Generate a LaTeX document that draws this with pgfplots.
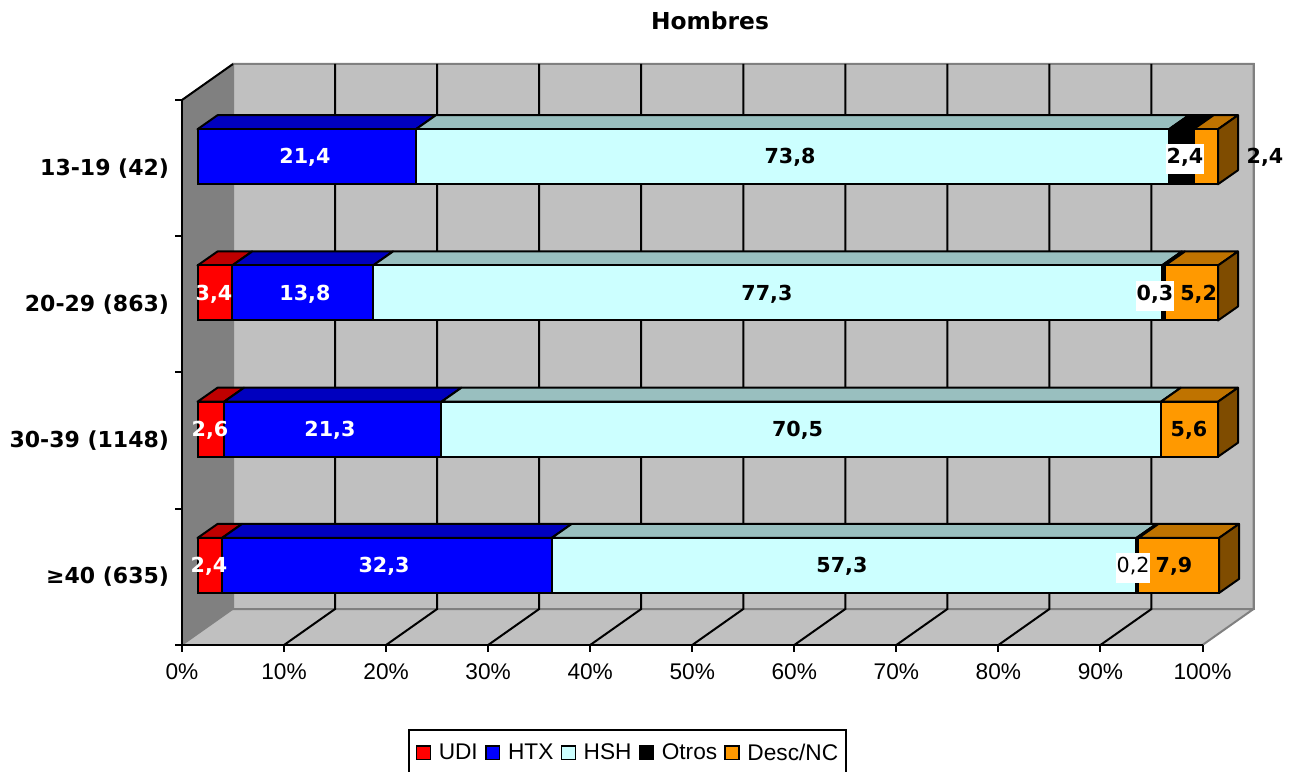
\documentclass[border=0pt]{standalone}
\usepackage{fontspec}
\setmainfont{Liberation Sans}
\newfontfamily\vb{DejaVu Sans}
\usepackage{pgfplots}
\pgfplotsset{compat=1.18}
\definecolor{wall}{HTML}{C0C0C0}
\definecolor{lwall}{HTML}{808080}
\definecolor{cU}{HTML}{FF0000}
\definecolor{cH}{HTML}{0000FF}
\definecolor{cS}{HTML}{CCFFFF}
\definecolor{cD}{HTML}{FF9900}
\definecolor{tU}{HTML}{BF0000}
\definecolor{tH}{HTML}{0000BF}
\definecolor{tS}{HTML}{99BFBF}
\definecolor{tD}{HTML}{BF7300}
\definecolor{sD}{HTML}{7F4C00}
\newcommand\lbl{\fontsize{15.5}{18}\selectfont\vb\bfseries}
\tikzset{val/.style={anchor=base,inner sep=0pt,font=\lbl},
  wbox/.style={anchor=base,fill=white,inner xsep=0.5pt,inner ysep=0pt,text height=14.5pt,text depth=8pt,font=\lbl}}
\begin{document}
\begin{tikzpicture}
\path[use as bounding box] (0,0) rectangle (969pt,578.25pt);
% walls, floor, grid, ticks
\begin{axis}[at={(136.5pt,94.5pt)},anchor=south west,scale only axis,width=765.375pt,height=408.75pt,
  xmin=0,xmax=100,ymin=0,ymax=4,clip=false,axis on top,
  axis x line*=bottom,axis y line*=left,
  axis line style={black,line width=1.5pt},
  tick align=outside,major tick length=5.25pt,minor tick length=5.25pt,
  xtick={0,10,...,100},xticklabels={0\%,10\%,20\%,30\%,40\%,50\%,60\%,70\%,80\%,90\%,100\%},
  x tick style={black,line width=1.5pt},
  ytick={0.5,1.5,2.5,3.5},
  yticklabels={{\char"2265 40 (635)},{30-39 (1148)},{20-29 (863)},{13-19 (42)}},
  y tick style={draw=none},
  minor ytick={0,1,2,3,4},
  minor y tick style={black,line width=1.5pt,draw=black},
  xticklabel style={font=\fontsize{17}{20}\selectfont,yshift=-5pt},
  yticklabel style={font=\fontsize{16.5}{20}\selectfont\vb\bfseries,xshift=-1pt},
  title={\fontsize{17.5}{20}\selectfont\vb\bfseries Hombres},
  title style={at={(0.5174,1.1303)},anchor=center},
]
\addplot[fill=lwall,draw=lwall,line width=1pt,forget plot] coordinates {(0,0)(5,0.2642)(5,4.2642)(0,4)} --cycle;
\addplot[fill=wall,draw=lwall,line width=1.5pt,forget plot] coordinates {(5,0.2642)(105,0.2642)(105,4.2642)(5,4.2642)} --cycle;
\addplot[fill=wall,draw=none,forget plot] coordinates {(0,0)(100,0)(105,0.2642)(5,0.2642)} --cycle;
\addplot[draw=lwall,line width=1.5pt,forget plot] coordinates {(100,0)(105,0.2642)(105,4.2642)(5,4.2642)(5,0.2642)(105,0.2642)};
\addplot[draw=lwall,line width=1pt,forget plot] coordinates {(0,0)(5,0.2642)};
\addplot[black,line width=1.5pt,forget plot] coordinates {(0,4)(5,4.2642)};
\addplot[black,line width=1.5pt,forget plot] coordinates {(10,0)(15,0.2642)(15,4.2642)};
\addplot[black,line width=1.5pt,forget plot] coordinates {(20,0)(25,0.2642)(25,4.2642)};
\addplot[black,line width=1.5pt,forget plot] coordinates {(30,0)(35,0.2642)(35,4.2642)};
\addplot[black,line width=1.5pt,forget plot] coordinates {(40,0)(45,0.2642)(45,4.2642)};
\addplot[black,line width=1.5pt,forget plot] coordinates {(50,0)(55,0.2642)(55,4.2642)};
\addplot[black,line width=1.5pt,forget plot] coordinates {(60,0)(65,0.2642)(65,4.2642)};
\addplot[black,line width=1.5pt,forget plot] coordinates {(70,0)(75,0.2642)(75,4.2642)};
\addplot[black,line width=1.5pt,forget plot] coordinates {(80,0)(85,0.2642)(85,4.2642)};
\addplot[black,line width=1.5pt,forget plot] coordinates {(90,0)(95,0.2642)(95,4.2642)};
\end{axis}
% top and side faces of the bars
\begin{axis}[at={(148.125pt,103.05pt)},anchor=south west,scale only axis,width=765.375pt,height=408.75pt,
  xmin=0,xmax=100,ymin=0,ymax=4,clip=false,hide axis,
  every axis plot/.append style={draw=black,line width=1.5pt,line join=round}]
% 13-19
\addplot[fill=tH] coordinates {(0,3.7018)(21.4,3.7018)(23.36,3.8046)(1.96,3.8046)} --cycle;
\addplot[fill=tS] coordinates {(21.4,3.7018)(95.2,3.7018)(97.16,3.8046)(23.36,3.8046)} --cycle;
\addplot[fill=black] coordinates {(95.2,3.7018)(97.6,3.7018)(99.56,3.8046)(97.16,3.8046)} --cycle;
\addplot[fill=tD] coordinates {(97.6,3.7018)(100,3.7018)(101.96,3.8046)(99.56,3.8046)} --cycle;
\addplot[fill=sD] coordinates {(100,3.2982)(100,3.7018)(101.96,3.8046)(101.96,3.401)} --cycle;
% 20-29
\addplot[fill=tU] coordinates {(0,2.7018)(3.4,2.7018)(5.36,2.8046)(1.96,2.8046)} --cycle;
\addplot[fill=tH] coordinates {(3.4,2.7018)(17.2,2.7018)(19.16,2.8046)(5.36,2.8046)} --cycle;
\addplot[fill=tS] coordinates {(17.2,2.7018)(94.5,2.7018)(96.46,2.8046)(19.16,2.8046)} --cycle;
\addplot[fill=black] coordinates {(94.5,2.7018)(94.8,2.7018)(96.76,2.8046)(96.46,2.8046)} --cycle;
\addplot[fill=tD] coordinates {(94.8,2.7018)(100,2.7018)(101.96,2.8046)(96.76,2.8046)} --cycle;
\addplot[fill=sD] coordinates {(100,2.2982)(100,2.7018)(101.96,2.8046)(101.96,2.401)} --cycle;
% 30-39
\addplot[fill=tU] coordinates {(0,1.7018)(2.6,1.7018)(4.56,1.8046)(1.96,1.8046)} --cycle;
\addplot[fill=tH] coordinates {(2.6,1.7018)(23.9,1.7018)(25.86,1.8046)(4.56,1.8046)} --cycle;
\addplot[fill=tS] coordinates {(23.9,1.7018)(94.4,1.7018)(96.36,1.8046)(25.86,1.8046)} --cycle;
\addplot[fill=tD] coordinates {(94.4,1.7018)(100,1.7018)(101.96,1.8046)(96.36,1.8046)} --cycle;
\addplot[fill=sD] coordinates {(100,1.2982)(100,1.7018)(101.96,1.8046)(101.96,1.401)} --cycle;
% >=40
\addplot[fill=tU] coordinates {(0,0.7018)(2.4,0.7018)(4.36,0.8046)(1.96,0.8046)} --cycle;
\addplot[fill=tH] coordinates {(2.4,0.7018)(34.7,0.7018)(36.66,0.8046)(4.36,0.8046)} --cycle;
\addplot[fill=tS] coordinates {(34.7,0.7018)(92,0.7018)(93.96,0.8046)(36.66,0.8046)} --cycle;
\addplot[fill=black] coordinates {(92,0.7018)(92.2,0.7018)(94.16,0.8046)(93.96,0.8046)} --cycle;
\addplot[fill=tD] coordinates {(92.2,0.7018)(100.1,0.7018)(102.06,0.8046)(94.16,0.8046)} --cycle;
\addplot[fill=sD] coordinates {(100.1,0.2982)(100.1,0.7018)(102.06,0.8046)(102.06,0.401)} --cycle;
\end{axis}
% front faces, legend
\begin{axis}[at={(148.125pt,103.05pt)},anchor=south west,scale only axis,width=765.375pt,height=408.75pt,
  xmin=0,xmax=100,ymin=0,ymax=4,clip=false,hide axis,
  xbar stacked,bar width=41.25pt,
  every axis plot/.append style={draw=black,line width=1.5pt},
  legend columns=5,
  legend image code/.code={\path[draw=none,fill=none] (-2pt,0pt) -- (0pt,0pt);\draw[#1,line width=1.1pt] (0pt,-5.2pt) rectangle (10.4pt,5.2pt);},
  legend style={at={(0.2063,-0.175)},anchor=north west,draw=black,line width=1.5pt,fill=white,
    font=\fontsize{17}{20}\selectfont,inner xsep=3.6pt,inner ysep=8.2pt,
    /tikz/every odd column/.append style={column sep=3.75pt},
    /tikz/every even column/.append style={column sep=2pt}},
]
\addplot[fill=cU] coordinates {(2.4,0.5)(2.6,1.5)(3.4,2.5)(0,3.5)};
\addplot[fill=cH] coordinates {(32.3,0.5)(21.3,1.5)(13.8,2.5)(21.4,3.5)};
\addplot[fill=cS] coordinates {(57.3,0.5)(70.5,1.5)(77.3,2.5)(73.8,3.5)};
\addplot[fill=black] coordinates {(0.2,0.5)(0,1.5)(0.3,2.5)(2.4,3.5)};
\addplot[fill=cD] coordinates {(7.9,0.5)(5.6,1.5)(5.2,2.5)(2.4,3.5)};
\legend{UDI,HTX,HSH,Otros,Desc/NC}
\end{axis}
% value labels
\begin{axis}[at={(148.125pt,103.05pt)},anchor=south west,scale only axis,width=765.375pt,height=408.75pt,
  xmin=0,xmax=100,ymin=0,ymax=4,clip=false,hide axis]
\addplot[draw=none,forget plot] coordinates {(0,0)(100,4)};
\node[val,white] at (axis cs:10.53,3.448) {21,4};
\node[val] at (axis cs:58.06,3.448) {73,8};
\node[wbox] at (axis cs:96.76,3.448) {2,4};
\node[val] at (axis cs:104.6,3.448) {2,4};
\node[val,white] at (axis cs:1.62,2.448) {3,4};
\node[val,white] at (axis cs:10.53,2.448) {13,8};
\node[val] at (axis cs:55.8,2.448) {77,3};
\node[wbox] at (axis cs:93.83,2.448) {0,3};
\node[val] at (axis cs:98.1,2.448) {5,2};
\node[val,white] at (axis cs:1.22,1.448) {2,6};
\node[val,white] at (axis cs:12.98,1.448) {21,3};
\node[val] at (axis cs:58.8,1.448) {70,5};
\node[val] at (axis cs:97.15,1.448) {5,6};
\node[val,white] at (axis cs:1.13,0.448) {2,4};
\node[val,white] at (axis cs:18.28,0.448) {32,3};
\node[val] at (axis cs:63.15,0.448) {57,3};
\node[wbox,font=\fontsize{15.5}{18}\selectfont\vb] at (axis cs:91.68,0.448) {0,2};
\node[val] at (axis cs:95.68,0.448) {7,9};
\end{axis}
\end{tikzpicture}
\end{document}
